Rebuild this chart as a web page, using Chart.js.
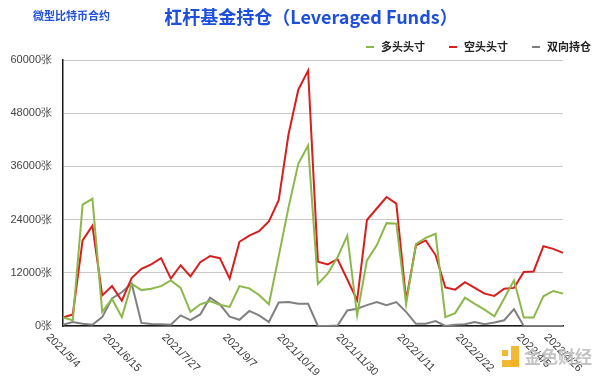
<!DOCTYPE html>
<html>
<head>
<meta charset="utf-8">
<script src="https://cdn.jsdelivr.net/npm/chart.js@4"></script>
<style>
html,body{margin:0;padding:0;background:#fff;}
#wrap{position:relative;width:600px;height:381px;}
</style>
</head>
<body>
<div id="wrap"><canvas id="c" width="600" height="381"></canvas></div>
<script>
const categories = [
 '2021/5/4','2021/5/11','2021/5/18','2021/5/25','2021/6/1','2021/6/8','2021/6/15','2021/6/22','2021/6/29','2021/7/6',
 '2021/7/13','2021/7/20','2021/7/27','2021/8/3','2021/8/10','2021/8/17','2021/8/24','2021/8/31','2021/9/7','2021/9/14',
 '2021/9/21','2021/9/28','2021/10/5','2021/10/12','2021/10/19','2021/10/26','2021/11/2','2021/11/9','2021/11/16','2021/11/23',
 '2021/11/30','2021/12/7','2021/12/14','2021/12/21','2021/12/28','2022/1/4','2022/1/11','2022/1/18','2022/1/25','2022/2/1',
 '2022/2/8','2022/2/15','2022/2/22','2022/3/1','2022/3/8','2022/3/15','2022/3/22','2022/3/29','2022/4/5','2022/4/12',
 '2022/4/19','2022/4/26'
];
const tickLabels = ['2021/5/4','2021/6/15','2021/7/27','2021/9/7','2021/10/19','2021/11/30','2022/1/11','2022/2/22','2022/4/5','2022/4/26'];
const yTicks = [0, 12000, 24000, 36000, 48000, 60000];

const longPos = [1900,1300,27400,28700,3200,6100,2000,9500,8100,8400,
 9000,10300,8600,3200,4900,5600,4800,4300,9000,8500,
 7000,4900,15700,26700,36600,40700,9500,11800,15500,20400,
 2400,14800,18200,23200,23100,5000,18500,19900,20800,2000,
 2900,6400,5000,3700,2200,6200,10300,1900,1900,6700,
 7900,7300];
const shortPos = [1900,2600,19300,22600,6900,9000,5700,10800,12900,13900,
 15300,10700,13700,11200,14400,15800,15300,10700,19000,20400,
 21400,23600,28400,43200,53300,57600,14500,13900,15100,10500,
 5800,23900,26500,29100,27600,5800,18200,19300,16000,8700,
 8200,9900,8600,7300,6800,8400,8600,12200,12300,18000,
 17400,16500];
const spreadPos = [300,900,500,300,2000,6200,7600,9600,700,450,
 380,300,2400,1300,2600,6400,4900,2100,1400,3400,
 2400,900,5300,5400,5000,5000,0,0,100,3500,
 3900,4700,5400,4700,5400,3200,500,500,1100,0,
 300,400,900,400,800,1300,3800,0,0,0,
 0,0];

const seriesNames = ['多头头寸','空头头寸','双向持仓'];
const seriesColors = ['#8cb84b','#d81e1e','#808080'];

const decor = {
  id: 'decor',
  afterDraw(chart) {
    const ctx = chart.ctx;
    const xs = chart.scales.x;
    const top = chart.chartArea.bottom;
    ctx.save();
    // x tick labels, rotated 45deg, centered on tick
    ctx.font = '11px "Liberation Sans", Arial, sans-serif';
    ctx.fillStyle = '#3a3a3a';
    ctx.textAlign = 'center';
    ctx.textBaseline = 'middle';
    const s = Math.SQRT1_2;
    tickLabels.forEach(lbl => {
      const idx = categories.indexOf(lbl);
      const x = xs.getPixelForValue(idx);
      const w = ctx.measureText(lbl).width;
      const h = 10;
      const cy = top + 6 + (w * s + h * s) / 2;
      ctx.save();
      ctx.translate(x, cy);
      ctx.rotate(Math.PI / 4);
      ctx.fillText(lbl, 0, 0);
      ctx.restore();
    });
    // titles
    ctx.textAlign = 'left';
    ctx.textBaseline = 'middle';
    ctx.fillStyle = '#2352d8';
    ctx.font = 'bold 11px "Noto Sans CJK SC", sans-serif';
    ctx.fillText('微型比特币合约', 33, 16);
    ctx.fillStyle = '#1d4fdc';
    ctx.font = 'bold 18px "Noto Sans CJK SC", sans-serif';
    ctx.textAlign = 'center';
    ctx.fillText('杠杆基金持仓（Leveraged Funds）', 311, 17);
    // legend
    ctx.font = 'bold 11px "Noto Sans CJK SC", sans-serif';
    ctx.textAlign = 'left';
    let xr = 591;
    const items = chart.data.datasets.map(d => ({t: d.label, c: d.borderColor})).reverse();
    items.forEach(it => {
      const tw = ctx.measureText(it.t).width;
      const tx = xr - tw;
      ctx.fillStyle = '#222';
      ctx.fillText(it.t, tx, 47);
      ctx.fillStyle = it.c;
      ctx.fillRect(tx - 15, 46, 8, 2);
      xr = tx - 15 - 24;
    });
    // watermark
    ctx.globalAlpha = 0.9;
    ctx.fillStyle = '#f2b01e';
    ctx.fillRect(511, 346, 8, 20);
    ctx.fillRect(502, 360, 17, 7);
    ctx.fillRect(502, 350, 6, 6);
    ctx.fillStyle = '#bdbdbd';
    ctx.font = 'bold 17px "Noto Sans CJK SC", sans-serif';
    ctx.textAlign = 'left';
    ctx.fillText('金色财经', 524, 357);
    ctx.restore();
  }
};

new Chart(document.getElementById('c'), {
  type: 'line',
  data: {
    labels: categories,
    datasets: [
      {label: seriesNames[0], data: longPos, borderColor: seriesColors[0], backgroundColor: seriesColors[0]},
      {label: seriesNames[1], data: shortPos, borderColor: seriesColors[1], backgroundColor: seriesColors[1]},
      {label: seriesNames[2], data: spreadPos, borderColor: seriesColors[2], backgroundColor: seriesColors[2]}
    ]
  },
  options: {
    responsive: false,
    animation: false,
    devicePixelRatio: 1,
    layout: {padding: {left: 0, top: 60, right: 37, bottom: 55}},
    elements: {
      line: {borderWidth: 2, tension: 0},
      point: {radius: 0, hoverRadius: 0}
    },
    plugins: {
      legend: {display: false},
      title: {display: false},
      tooltip: {enabled: false}
    },
    scales: {
      x: {
        type: 'category',
        offset: false,
        grid: {display: false, drawTicks: false},
        border: {display: true, color: '#1a1a1a', width: 1.5},
        ticks: {display: false}
      },
      y: {
        min: 0, max: 60000,
        afterFit(scale) { scale.width = 63; },
        afterBuildTicks(scale) { scale.ticks = yTicks.map(v => ({value: v})); },
        grid: {color: '#c9c9c9', lineWidth: 1, drawTicks: false},
        border: {display: true, color: '#1a1a1a', width: 1.5},
        ticks: {
          padding: 11,
          color: '#444',
          font: {family: '"Liberation Sans", Arial, sans-serif', size: 11},
          callback: v => v + '张'
        }
      }
    }
  },
  plugins: [decor]
});
</script>
</body>
</html>
